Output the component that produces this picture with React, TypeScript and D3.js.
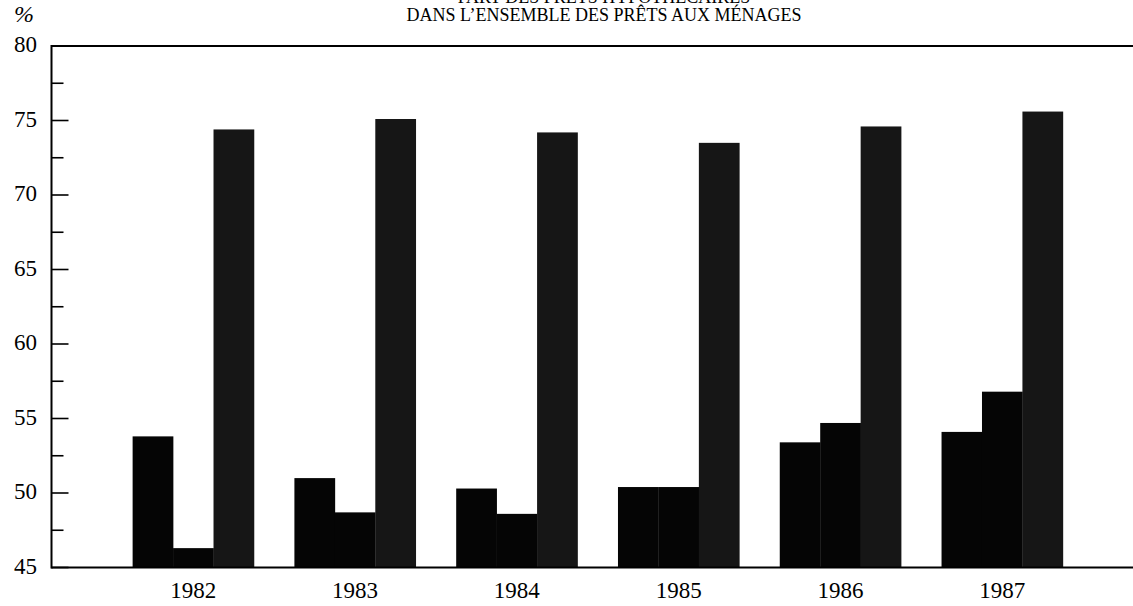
import React from "react";
import * as d3 from "d3";

const years = ["1982", "1983", "1984", "1985", "1986", "1987"];
const seriesA = [53.8, 51.0, 50.3, 50.4, 53.4, 54.1];
const seriesB = [46.3, 48.7, 48.6, 50.4, 54.7, 56.8];
const seriesC = [74.4, 75.1, 74.2, 73.5, 74.6, 75.6];
const majorTicks = [45, 50, 55, 60, 65, 70, 75, 80];
const minorTicks = [47.5, 52.5, 57.5, 62.5, 67.5, 72.5, 77.5];
const titleLines = ["PART DES PRÊTS HYPOTHÉCAIRES", "DANS L’ENSEMBLE DES PRÊTS AUX MÉNAGES"];
const unitLabel = "%";

const W = 1133;
const H = 606;
const FONT = "'Liberation Serif', 'Times New Roman', serif";

export default function App() {
  const axisX = 51.5;
  const y = d3.scaleLinear().domain([45, 80]).range([567.5, 46]);
  const x = d3
    .scaleBand<string>()
    .domain(years)
    .range([112.4, 1083.1])
    .paddingInner(0.25)
    .paddingOuter(0.125);
  const series = [seriesA, seriesB, seriesC];
  const xs = d3
    .scaleBand<number>()
    .domain([0, 1, 2])
    .range([0, x.bandwidth()])
    .padding(0);
  const fills = ["#050505", "#050505", "#161616"];

  return (
    <svg
      width={W}
      height={H}
      style={{ position: "absolute", left: 0, top: 0, background: "#fff" }}
      fontFamily={FONT}
    >
      <rect x={0} y={0} width={W} height={H} fill="#fff" />
      {/* title */}
      <text x={604} y={3} textAnchor="middle" fontSize={18} fill="#000">
        {titleLines[0]}
      </text>
      <text x={604} y={21} textAnchor="middle" fontSize={18} fill="#000">
        {titleLines[1]}
      </text>
      <text x={24} y={22} textAnchor="middle" fontSize={24} fontStyle="italic" fill="#000">
        {unitLabel}
      </text>

      {/* bars */}
      {years.map((yr, i) =>
        series.map((s, k) => (
          <rect
            key={yr + k}
            x={(x(yr) as number) + (xs(k) as number)}
            y={y(s[i])}
            width={xs.bandwidth() + 0.3}
            height={y(45) - y(s[i])}
            fill={fills[k]}
          />
        ))
      )}

      {/* frame */}
      <line x1={axisX} x2={W} y1={y(80)} y2={y(80)} stroke="#000" strokeWidth={2} />
      <line x1={axisX} x2={W} y1={y(45)} y2={y(45)} stroke="#000" strokeWidth={2} />
      <line x1={axisX} x2={axisX} y1={y(80) - 1} y2={y(45) + 1} stroke="#000" strokeWidth={2} />

      {/* ticks */}
      {majorTicks.map((t) => (
        <g key={"M" + t}>
          <line x1={axisX} x2={axisX + 17} y1={y(t)} y2={y(t)} stroke="#000" strokeWidth={1.6} />
          <text x={37} y={y(t) + 6} textAnchor="end" fontSize={23} fill="#000">
            {t}
          </text>
        </g>
      ))}
      {minorTicks.map((t) => (
        <line key={"m" + t} x1={axisX} x2={axisX + 12} y1={y(t)} y2={y(t)} stroke="#000" strokeWidth={1.6} />
      ))}

      {/* year labels */}
      {years.map((yr) => (
        <text
          key={"l" + yr}
          x={(x(yr) as number) + x.bandwidth() / 2}
          y={598}
          textAnchor="middle"
          fontSize={23}
          fill="#000"
        >
          {yr}
        </text>
      ))}
    </svg>
  );
}
